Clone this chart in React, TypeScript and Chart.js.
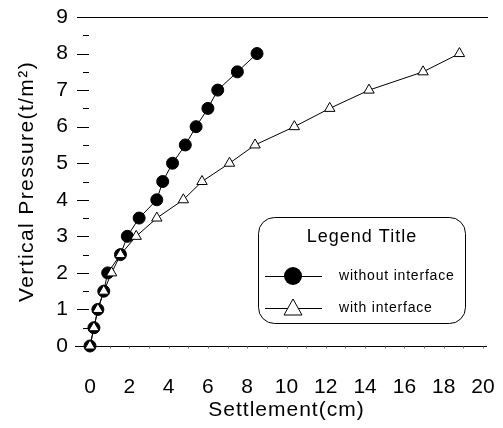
import React, { useEffect, useRef } from 'react';
import { Chart, registerables } from 'chart.js';

Chart.register(...registerables);

const pressure = [0, 0.5, 1, 1.5, 2, 2.5, 3, 3.5, 4, 4.5, 5, 5.5, 6, 6.5, 7, 7.5, 8];
const settlementWithout = [0, 0.2, 0.4, 0.7, 0.9, 1.55, 1.9, 2.5, 3.4, 3.7, 4.2, 4.85, 5.4, 6.0, 6.5, 7.5, 8.5];
const settlementWith = [0, 0.2, 0.4, 0.7, 1.1, 1.55, 2.35, 3.4, 4.75, 5.7, 7.1, 8.4, 10.4, 12.2, 14.2, 16.95, 18.8];
const seriesLabels = ['without interface', 'with interface'];
const legendTitle = 'Legend Title';
const xTitle = 'Settlement(cm)';
const yTitle = 'Vertical Pressure(t/m²)';
const xRange = [0, 20];
const yRange = [0, 9];

const FONT = '"Liberation Sans", Arial, sans-serif';

const framePlugin = {
  id: 'frame',
  beforeDatasetsDraw(chart: any) {
    const { ctx, scales } = chart;
    const x = scales.x;
    const y = scales.y;
    ctx.save();
    ctx.strokeStyle = '#000';
    ctx.lineWidth = 1;
    const yTop = Math.round(y.getPixelForValue(yRange[1])) + 0.5;
    const yBot = Math.round(y.getPixelForValue(yRange[0])) + 0.5;
    ctx.beginPath();
    ctx.moveTo(x.left - 13, yTop);
    ctx.lineTo(x.right + 5, yTop);
    ctx.moveTo(x.left - 15, yBot);
    ctx.lineTo(x.right + 4, yBot);
    ctx.stroke();
    ctx.beginPath();
    for (let v = yRange[0]; v <= yRange[1]; v += 0.5) {
      const py = Math.round(y.getPixelForValue(v)) + 0.5;
      const major = Math.abs(v - Math.round(v)) < 1e-6;
      ctx.moveTo(x.left - (major ? 13 : 7), py);
      ctx.lineTo(x.left - 1, py);
    }
    ctx.stroke();
    ctx.strokeStyle = '#777';
    ctx.beginPath();
    for (let v = xRange[0]; v <= xRange[1]; v += 1) {
      const px = Math.round(x.getPixelForValue(v)) + 0.5;
      ctx.moveTo(px, yBot);
      ctx.lineTo(px, yBot + 2);
    }
    ctx.stroke();

    ctx.fillStyle = '#000';
    ctx.textAlign = 'center';
    ctx.textBaseline = 'middle';
    ctx.font = `21px ${FONT}`;
    (ctx as any).letterSpacing = '1px';
    ctx.fillText(xTitle, (x.left + x.right) / 2, 410);
    ctx.save();
    ctx.translate(27, (y.top + y.bottom) / 2);
    ctx.rotate(-Math.PI / 2);
    (ctx as any).letterSpacing = '1.4px';
    ctx.fillText(yTitle, 0, 0);
    ctx.restore();
    (ctx as any).letterSpacing = '0px';
    ctx.restore();
  },
};

const legendPlugin = {
  id: 'customLegend',
  afterDraw(chart: any) {
    const { ctx } = chart;
    const bx = 258, by = 217, bw = 207, bh = 106;
    ctx.save();
    ctx.strokeStyle = '#000';
    ctx.lineWidth = 1;
    ctx.beginPath();
    ctx.roundRect(bx + 0.5, by + 0.5, bw, bh, 16);
    ctx.fillStyle = '#fff';
    ctx.fill();
    ctx.stroke();
    ctx.fillStyle = '#000';
    ctx.textBaseline = 'middle';
    ctx.textAlign = 'center';
    ctx.font = `18px ${FONT}`;
    (ctx as any).letterSpacing = '1px';
    ctx.fillText(legendTitle, 362, 237);
    const rows = [276, 308];
    ctx.textAlign = 'left';
    ctx.font = `14px ${FONT}`;
    rows.forEach((ry, i) => {
      ctx.beginPath();
      ctx.moveTo(265, ry + 0.5);
      ctx.lineTo(322, ry + 0.5);
      ctx.stroke();
      if (i === 0) {
        ctx.beginPath();
        ctx.arc(293, ry, 9, 0, Math.PI * 2);
        ctx.fillStyle = '#000';
        ctx.fill();
      } else {
        ctx.beginPath();
        ctx.moveTo(293, ry - 9);
        ctx.lineTo(302, ry + 7);
        ctx.lineTo(284, ry + 7);
        ctx.closePath();
        ctx.fillStyle = '#fff';
        ctx.fill();
        ctx.stroke();
      }
      ctx.fillStyle = '#000';
      (ctx as any).letterSpacing = '0.8px';
      ctx.fillText(seriesLabels[i], 339, ry);
    });
    (ctx as any).letterSpacing = '0px';
    ctx.restore();
  },
};

export default function App() {
  const ref = useRef<HTMLCanvasElement>(null);
  useEffect(() => {
    document.body.style.margin = '0';
    const canvas = ref.current;
    if (!canvas) return;
    const chart = new Chart(canvas, {
      type: 'scatter',
      data: {
        datasets: [
          {
            label: seriesLabels[1],
            data: settlementWith.map((s, i) => ({ x: s, y: pressure[i] })),
            showLine: true,
            borderColor: '#000',
            borderWidth: 1,
            pointStyle: 'triangle',
            pointRadius: 6,
            pointBackgroundColor: '#fff',
            pointBorderColor: '#000',
            pointBorderWidth: 1,
            clip: false,
          },
          {
            label: seriesLabels[0],
            data: settlementWithout.map((s, i) => ({ x: s, y: pressure[i] })),
            showLine: true,
            borderColor: '#000',
            borderWidth: 1,
            pointStyle: 'circle',
            pointRadius: 6,
            pointBackgroundColor: '#000',
            pointBorderColor: '#000',
            pointBorderWidth: 1,
            clip: false,
          },
        ],
      },
      options: {
        animation: false,
        responsive: true,
        maintainAspectRatio: false,
        layout: { padding: { top: 17, right: 20, left: 0, bottom: 0 } },
        plugins: {
          legend: { display: false },
          tooltip: { enabled: false },
        },
        scales: {
          x: {
            type: 'linear',
            min: xRange[0],
            max: xRange[1],
            border: { display: false },
            grid: { display: false, drawTicks: false },
            ticks: {
              stepSize: 2,
              color: '#000',
              padding: 29,
              maxRotation: 0,
              font: { family: FONT, size: 21 },
            },
            afterFit(scale: any) {
              scale.height = 82;
              scale.paddingLeft = 0;
              scale.paddingRight = 0;
            },
          },
          y: {
            type: 'linear',
            min: yRange[0],
            max: yRange[1],
            border: { display: false },
            grid: { display: false, drawTicks: false },
            ticks: {
              stepSize: 1,
              color: '#000',
              padding: 22,
              font: { family: FONT, size: 21 },
            },
            afterFit(scale: any) {
              scale.width = 90;
              scale.paddingTop = 0;
              scale.paddingBottom = 0;
            },
          },
        },
      },
      plugins: [framePlugin, legendPlugin],
    } as any);
    return () => chart.destroy();
  }, []);
  return (
    <div style={{ position: 'relative', width: 503, height: 428 }}>
      <canvas ref={ref} />
    </div>
  );
}
